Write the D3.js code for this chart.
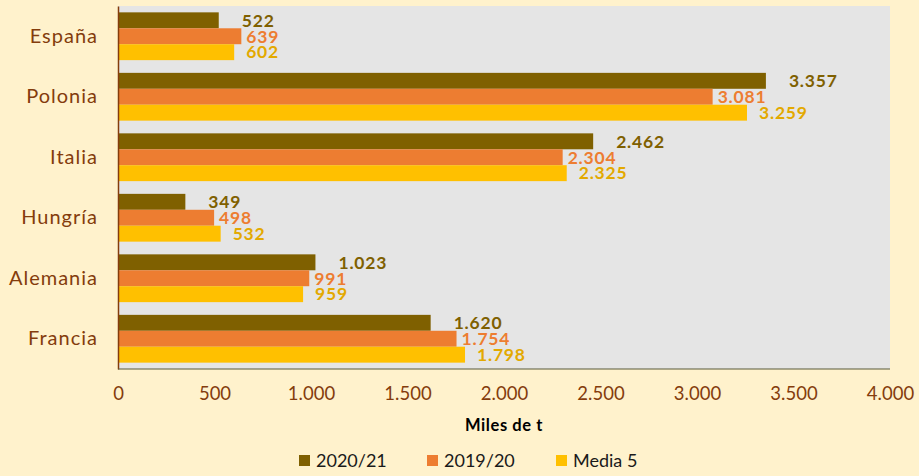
<!DOCTYPE html>
<html>
<head>
<meta charset="utf-8">
<script src="https://cdn.jsdelivr.net/npm/d3@7"></script>
<style>
  html, body { margin: 0; padding: 0; background: #FFF2CC; }
  svg { display: block; }
  text { font-family: Lato, "Open Sans", sans-serif; }
</style>
</head>
<body>
<svg id="chart" width="919" height="476"></svg>
<script>
const categories = ["España", "Polonia", "Italia", "Hungría", "Alemania", "Francia"];
const seriesNames = ["2020/21", "2019/20", "Media 5"];
const values2021 = [522, 3357, 2462, 349, 1023, 1620];
const values2019 = [639, 3081, 2304, 498, 991, 1754];
const valuesMedia = [602, 3259, 2325, 532, 959, 1798];
const xTicks = [0, 500, 1000, 1500, 2000, 2500, 3000, 3500, 4000];
const axisTitle = "Miles de t";

const barColors = ["#7F6000", "#ED7D31", "#FFC000"];
const labelColors = ["#7F6000", "#ED7D31", "#E3A900"];
const labelOffsets = [23, 5, 12];

const series = [values2021, values2019, valuesMedia];
const fmt = v => d3.format(",")(v).replace(/,/g, ".");

const svg = d3.select("#chart");
const plot = { left: 118, right: 890, top: 6, bottom: 369 };

svg.append("rect")
  .attr("x", plot.left).attr("y", plot.top)
  .attr("width", plot.right - plot.left).attr("height", plot.bottom - plot.top)
  .attr("fill", "#E5E5E5");

const x = d3.scaleLinear().domain([0, 4000]).range([plot.left, plot.right]);
const y = d3.scaleBand().domain(categories).range([plot.top, plot.bottom]).paddingInner(0.21).paddingOuter(0.105);
const ySub = d3.scaleBand().domain(seriesNames).range([0, y.bandwidth()]);

const groups = svg.selectAll("g.cat").data(categories).join("g")
  .attr("class", "cat")
  .attr("transform", d => `translate(0,${y(d)})`);

seriesNames.forEach((s, si) => {
  groups.append("rect")
    .attr("x", x(0))
    .attr("y", ySub(s))
    .attr("width", (d, i) => x(series[si][i]) - x(0))
    .attr("height", ySub.bandwidth())
    .attr("fill", barColors[si]);
});
seriesNames.forEach((s, si) => {
  groups.append("text")
    .attr("x", (d, i) => x(series[si][i]) + labelOffsets[si])
    .attr("y", ySub(s) + ySub.bandwidth() / 2)
    .attr("dy", "0.36em")
    .attr("fill", labelColors[si])
    .attr("font-size", 17.5)
    .attr("font-weight", "bold")
    .attr("letter-spacing", 0.8)
    .text((d, i) => fmt(series[si][i]));
});

// left axis
const yAxis = svg.append("g").attr("transform", `translate(${plot.left},0)`)
  .call(d3.axisLeft(y).tickSize(0).tickPadding(20));
yAxis.select(".domain").attr("stroke", "#843C0C").attr("stroke-width", 1.5);
yAxis.selectAll("text").attr("fill", "#843C0C").attr("font-size", 20)
  .attr("letter-spacing", 1)
  .attr("font-family", "Lato, 'Open Sans', sans-serif");

// bottom line
svg.append("line")
  .attr("x1", plot.left).attr("x2", plot.right)
  .attr("y1", plot.bottom).attr("y2", plot.bottom)
  .attr("stroke", "#5A5A3A").attr("stroke-width", 1.2);

// x axis labels
const xAxis = svg.append("g").attr("transform", `translate(0,${plot.bottom})`)
  .call(d3.axisBottom(x).tickValues(xTicks).tickSize(0).tickPadding(18).tickFormat(fmt));
xAxis.select(".domain").remove();
xAxis.selectAll("text").attr("fill", "#843C0C").attr("font-size", 18.5).attr("font-family", "Lato, 'Open Sans', sans-serif");

svg.append("text")
  .attr("x", 504).attr("y", 431)
  .attr("text-anchor", "middle")
  .attr("font-size", 16.5).attr("font-weight", "bold").attr("fill", "#000")
  .attr("letter-spacing", 0.6)
  .text(axisTitle);

// legend
const legendX = [299, 427, 556];
const leg = svg.selectAll("g.leg").data(seriesNames).join("g")
  .attr("class", "leg")
  .attr("transform", (d, i) => `translate(${legendX[i]},455)`);
leg.append("rect").attr("width", 11).attr("height", 11).attr("fill", (d, i) => barColors[i]);
leg.append("text").attr("x", 17).attr("y", 5.5).attr("dy", "0.36em")
  .attr("font-size", 18).attr("fill", "#1A1A1A").text(d => d);
</script>
</body>
</html>
